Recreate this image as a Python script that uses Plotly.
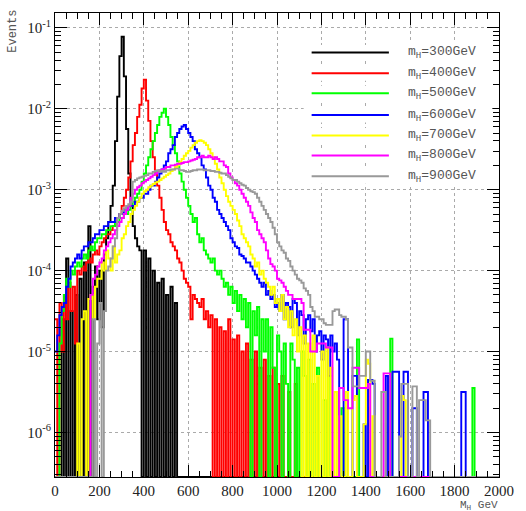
import math
import plotly.graph_objects as go

_ = None  # empty bin (zero events)

# ---- data: log10(Events) per 10 GeV bin of M_H, starting at 0 GeV ----
bin_width_GeV = 10
bin_low_GeV = list(range(0, 2000, bin_width_GeV))

log10_events_mH300 = [
    _, _, _, -4.6, _, -3.85, _, -4.5, _, -4.3,
    _, -4.1, _, -3.9, _, -3.45, _, -4.2, -3.95, -4.6,
    -4.0, -4.7, -3.8, -3.6, -3.4, -3.2, -2.95, -2.4, -1.85, -1.35,
    -1.11, -1.6, -2.25, -2.8, -3.2, -3.45, -3.6, -3.7, -3.75, _,
    -3.75, _, -3.85, _, -4.0, _, -4.15, _, -4.1, _,
    -4.3, _, -4.2, _, -4.4,
]

log10_events_mH400 = [
    -4.6, _, -4.4, -5.0, -4.3, -4.6, -4.15, -4.5, -4.2, -4.9,
    -4.0, -4.05, -3.95, -4.0, -3.9, -3.85, -3.9, -3.8, -3.75, -3.8,
    -3.7, -3.65, -3.6, -3.55, -3.55, -3.5, -3.45, -3.45, -3.35, -3.3,
    -3.2, -3.1, -3.0, -2.85, -2.65, -2.45, -2.3, -2.1, -1.95, -1.75,
    -1.64, -1.9, -2.15, -2.4, -2.6, -2.8, -2.95, -3.1, -3.25, -3.4,
    -3.5, -3.55, -3.65, -3.7, -3.75, -3.85, -3.9, -4.0, -4.1, -4.15,
    -4.2, -4.6, -4.3, -4.35, -4.4, -4.45, -4.35, -4.6, -4.5, -4.7,
    -4.55, _, -4.6, _, -4.7, _, -4.75, _, -4.6, _,
    -4.85, _, -4.8, _, -5.0, _, -4.9, _, -5.1, _,
    -5.0, _, -5.2, _, -5.1, _, -5.3, _, -5.2, _,
    -5.4, _, -5.3, _, _, -5.5, _, _, -5.4,
]

log10_events_mH500 = [
    _, _, -4.9, -4.5, -4.3, -4.1, -4.2, -4.0, -4.05, -3.95,
    -3.9, -3.95, -3.85, -3.8, -3.85, -3.75, -3.7, -3.75, -3.65, -3.6,
    -3.6, -3.55, -3.55, -3.5, -3.5, -3.45, -3.45, -3.4, -3.4, -3.35,
    -3.35, -3.3, -3.3, -3.25, -3.2, -3.15, -3.1, -3.05, -3.0, -2.9,
    -2.8, -2.7, -2.6, -2.5, -2.4, -2.3, -2.2, -2.1, -2.05, -2.0,
    -2.1, -2.2, -2.35, -2.45, -2.55, -2.65, -2.8, -2.9, -3.0, -3.1,
    -3.2, -3.3, -3.4, -3.35, -3.55, -3.65, -3.6, -3.75, -3.8, -3.85,
    -3.9, -3.85, -4.0, -4.05, -4.0, -4.1, -4.2, -4.15, -4.3, -4.2,
    -4.4, -4.25, -4.5, -4.3, -4.6, -4.35, -4.7, -4.4, _, -4.5,
    -4.8, -4.45, _, -4.6, -5.0, -4.6, _, -4.7, -5.2, _,
    -4.8, -5.0, _, -4.9, -5.4, _, -4.9, -5.1, _, -5.2,
    _, -5.0, -5.3, _, -5.1, _, -5.4, _, -5.2, _,
    _, -5.6, _, -5.3, _, _, _, _, _, -5.7,
    _, _, _, _, _, _, -4.85, _, _, _,
    _, _, _, _, _, _, _, _, _, _,
    _, -4.84, _, _, _, _, _, _, _, _,
    _, _, _, _, _, _, _, _, _, _,
    _, _, _, _, _, _, _, _, _, _,
    _, _, _, _, _, _, _, _, -5.45,
]

log10_events_mH600 = [
    -5.0, -4.8, -4.55, -4.45, -4.4, -4.2, -4.1, -3.95, -3.9, -3.85,
    -3.8, -3.85, -3.75, -3.7, -3.7, -3.65, -3.65, -3.6, -3.55, -3.55,
    -3.5, -3.5, -3.45, -3.45, -3.4, -3.4, -3.4, -3.35, -3.35, -3.3,
    -3.3, -3.25, -3.25, -3.2, -3.2, -3.2, -3.15, -3.15, -3.1, -3.1,
    -3.05, -3.05, -3.0, -2.95, -2.95, -2.9, -2.85, -2.8, -2.75, -2.7,
    -2.65, -2.55, -2.5, -2.45, -2.35, -2.3, -2.25, -2.22, -2.2, -2.25,
    -2.3, -2.35, -2.4, -2.5, -2.55, -2.6, -2.7, -2.75, -2.85, -2.95,
    -3.0, -3.1, -3.15, -3.25, -3.3, -3.35, -3.4, -3.45, -3.5, -3.6,
    -3.65, -3.7, -3.72, -3.8, -3.82, -3.85, -3.9, -3.9, -3.95, -4.0,
    -4.05, -4.1, -4.15, -4.2, -4.15, -4.3, -4.25, -4.35, -4.3, -4.45,
    -4.4, -4.5, -4.3, -4.6, -4.4, -4.45, -4.7, -4.35, -4.4, -4.8,
    -4.5, -4.55, -4.9, -4.6, -4.55, -4.75, -4.6, -5.0, -4.8, -4.75,
    -5.1, -4.8, -4.85, -5.3, -4.8, -5.0, -4.9, -5.1, _, _,
    -4.6, -4.6, _, _, -5.3, -5.3, _, _, _, -5.9,
    _, -5.35, -5.35, -5.4, _, _, _, _, _, -5.3,
    _, _, -5.25, -5.25, -5.25, _, _, -5.25, -5.25, _,
    _, -5.7, -5.7, _, _, _, -5.5, -5.5, _, _,
    _, _, _, _, _, _, _, _, _, _,
    _, _, _, -5.5, -5.5,
]

log10_events_mH700 = [
    _, _, _, _, _, _, _, _, _, _,
    -4.9, _, -4.6, -4.5, _, -4.35, -4.3, -4.6, -4.2, -4.1,
    -4.1, -3.9, -4.0, -3.75, -3.85, -4.0, -3.7, -3.9, -3.8, -3.75,
    -3.6, -3.55, -3.45, -3.4, -3.3, -3.25, -3.2, -3.15, -3.1, -3.05,
    -3.02, -3.0, -2.97, -2.95, -2.93, -2.91, -2.9, -2.88, -2.86, -2.84,
    -2.82, -2.8, -2.77, -2.75, -2.72, -2.7, -2.66, -2.62, -2.58, -2.55,
    -2.52, -2.48, -2.45, -2.42, -2.4, -2.39, -2.4, -2.42, -2.45, -2.5,
    -2.55, -2.6, -2.68, -2.75, -2.85, -2.92, -3.0, -3.08, -3.15, -3.2,
    -3.25, -3.3, -3.38, -3.45, -3.55, -3.6, -3.65, -3.7, -3.8, -3.85,
    -3.95, -3.9, -4.05, -4.0, -4.1, -4.15, -4.2, -4.3, -4.2, -4.4,
    -4.35, -4.5, -4.3, -4.6, -4.45, -4.7, -4.5, -4.8, -4.6, -5.0,
    -4.7, _, -4.8, _, -4.9, _, -4.8, _, -5.3, _,
    -5.0, _, -4.95, _, -5.2, _, -5.5, _, -5.8, _,
    _, -5.5, _, _, -5.6, -5.55, _, _, _, -5.9,
    -5.1, -5.15, _, -5.8, _, _, _, _, _, _,
    _, _, _, _, _, _, -5.55, -5.6,
]

log10_events_mH800 = [
    _, _, _, _, _, _, _, _, _, _,
    _, _, _, _, _, _, -4.3, -4.1, -4.05, -3.95,
    -3.9, -3.85, -3.75, -3.7, -3.65, -3.6, -3.55, -3.5, -3.45, -3.4,
    -3.35, -3.3, -3.25, -3.2, -3.1, -3.05, -3.0, -2.97, -2.95, -2.92,
    -2.9, -2.88, -2.86, -2.84, -2.82, -2.8, -2.78, -2.76, -2.75, -2.74,
    -2.72, -2.72, -2.7, -2.7, -2.69, -2.68, -2.68, -2.67, -2.66, -2.66,
    -2.65, -2.64, -2.63, -2.62, -2.6, -2.6, -2.58, -2.6, -2.6, -2.58,
    -2.6, -2.62, -2.6, -2.62, -2.65, -2.65, -2.7, -2.72, -2.8, -2.85,
    -2.88, -2.92, -2.95, -3.0, -3.05, -3.1, -3.15, -3.2, -3.28, -3.35,
    -3.4, -3.5, -3.55, -3.6, -3.65, -3.75, -3.85, -3.92, -3.95, -4.0,
    -4.1, -4.12, -4.15, -4.2, -4.25, -4.3, -4.3, -4.35, -4.35, -4.35,
    -4.35, -4.4, -4.73, -4.73, -4.73, -5.0, -5.0, -5.0, -4.9, -4.9,
    -4.9, -4.9, -4.95, -4.95, -4.95, _, _, _, -5.45, -5.45,
    -5.6, -5.6, -5.7, -5.7, -5.2, -5.2, -5.2, -5.45, -5.45, -5.45,
    -5.45, -5.4, _, _, _, _, _, _, -5.27, -5.27,
    -5.27,
]

log10_events_mH900 = [
    _, _, _, _, _, _, _, _, _, _,
    _, _, _, _, _, _, _, -4.6, _, -4.9,
    -4.4, _, -4.5, -4.0, -3.95, -3.85, -3.7, -3.6, -3.35, -3.3,
    -3.26, -3.23, -3.2, -3.18, -3.15, -2.9, -2.88, -2.86, -2.85, -2.84,
    -2.83, -2.82, -2.8, -2.8, -2.78, -2.77, -2.76, -2.78, -2.77, -2.78,
    -2.76, -2.76, -2.75, -2.75, -2.74, -2.74, -2.76, -2.76, -2.77, -2.78,
    -2.78, -2.77, -2.76, -2.76, -2.75, -2.75, -2.75, -2.76, -2.76, -2.76,
    -2.77, -2.77, -2.78, -2.78, -2.79, -2.8, -2.8, -2.82, -2.84, -2.86,
    -2.88, -2.88, -2.9, -2.92, -2.94, -2.95, -2.98, -3.0, -3.02, -3.03,
    -3.05, -3.1, -3.15, -3.2, -3.25, -3.3, -3.35, -3.4, -3.47, -3.55,
    -3.65, -3.7, -3.75, -3.78, -3.85, -3.88, -3.95, -4.0, -4.05, -4.1,
    -4.12, -4.15, -4.22, -4.25, -4.3, -4.45, -4.5, -4.57, -4.57, -4.6,
    -4.6, -4.65, -4.67, -4.67, -4.67, -4.5, -4.48, -4.48, -4.55, -4.57,
    -4.57, -4.6, -4.95, -4.95, -5.43, -5.43, -5.43, -5.3, -5.3, -5.3,
    -5.0, -5.0, -5.36, -5.36, _, _, _, -5.5, -5.5, _,
    _, _, _, _, _, -6.05, -5.4, -5.4, -5.4, _,
    _, -5.43, -5.43, _, -5.6, -5.6, -5.6, -5.85, -5.85,
]

series_labels = ["300", "400", "500", "600", "700", "800", "900"]
series_log10 = [log10_events_mH300, log10_events_mH400, log10_events_mH500,
                log10_events_mH600, log10_events_mH700, log10_events_mH800,
                log10_events_mH900]
series_colors = ["#000000", "#ff0000", "#00ff00", "#0000ff", "#ffff00",
                 "#ff00ff", "#999999"]

# ---- axes ----
x_tick_vals = list(range(0, 2001, 200))
y_log_min, y_log_max = -6.55, -0.817
y_decades = [-6, -5, -4, -3, -2, -1]

fig = go.Figure()

floor_value = 10 ** y_log_min  # empty bins are drawn on the bottom edge (ROOT style)
x_edges = bin_low_GeV + [bin_low_GeV[-1] + bin_width_GeV]
for lab, logs, col in zip(series_labels, series_log10, series_colors):
    full = list(logs) + [None] * (len(bin_low_GeV) - len(logs))
    yv = [10 ** v if v is not None else floor_value for v in full]
    yv = yv + [yv[-1]]
    fig.add_trace(go.Scatter(
        x=x_edges, y=yv, mode="lines", line=dict(color=col, width=1.9, shape="hv"),
        name="m<sub>H</sub>=%sGeV" % lab, showlegend=False, hoverinfo="skip"))

minor_y = [k * 10 ** n for n in range(-7, 0) for k in range(2, 10)
           if y_log_min < (n + math.log10(k)) < y_log_max]

tick_font = dict(family="Liberation Serif, Times New Roman, serif", size=15, color="#222222")

fig.update_xaxes(
    range=[0, 2000], tickmode="array", tickvals=x_tick_vals,
    ticktext=[str(v) for v in x_tick_vals],
    ticks="inside", ticklen=12, tickcolor="black", tickwidth=1,
    showline=True, linecolor="black", linewidth=1, mirror="allticks",
    showgrid=True, gridcolor="#aaaaaa", griddash="dot", gridwidth=1,
    zeroline=False, tickfont=tick_font,
    minor=dict(tickmode="linear", tick0=0, dtick=50, ticks="inside", ticklen=6,
               tickcolor="black", showgrid=False),
)
fig.update_yaxes(
    type="log", range=[y_log_min, y_log_max], tickmode="array",
    tickvals=[10 ** d for d in y_decades],
    ticktext=["10<sup>%d</sup>" % d for d in y_decades],
    ticks="inside", ticklen=12, tickcolor="black", tickwidth=1,
    showline=True, linecolor="black", linewidth=1, mirror="allticks",
    showgrid=True, gridcolor="#aaaaaa", griddash="dot", gridwidth=1,
    zeroline=False, tickfont=tick_font,
    minor=dict(tickmode="array", tickvals=minor_y, ticks="inside", ticklen=6,
               tickcolor="black", showgrid=False),
)

# ---- legend (ROOT TLegend style) ----
legend_rows_y = [0.915, 0.870, 0.827, 0.780, 0.736, 0.693, 0.648]
shapes = []
annotations = []
# white backing that hides the grid behind the legend (as in the original)
shapes.append(dict(type="rect", xref="paper", yref="paper", x0=0.77, x1=0.985,
                   y0=0.625, y1=0.94, fillcolor="white", line=dict(width=0),
                   layer="above"))
for yy in legend_rows_y:
    shapes.append(dict(type="rect", xref="paper", yref="paper", x0=0.56, x1=0.77,
                       y0=yy - 0.016, y1=yy + 0.016, fillcolor="white",
                       line=dict(width=0), layer="above"))
for lab, col, yy in zip(series_labels, series_colors, legend_rows_y):
    shapes.append(dict(type="line", xref="paper", yref="paper", x0=0.578, x1=0.752,
                       y0=yy, y1=yy, line=dict(color=col, width=2), layer="above"))
    annotations.append(dict(xref="paper", yref="paper", x=0.79, y=yy, xanchor="left",
                            yanchor="middle", showarrow=False,
                            text="m<sub>H</sub>=%sGeV" % lab,
                            font=dict(family="Liberation Mono, monospace", size=13,
                                      color="#555555")))

annotations.append(dict(xref="paper", yref="paper", x=-0.095, y=1.012, xanchor="center",
                        yanchor="top", textangle=-90, showarrow=False, text="Events",
                        font=dict(family="Liberation Mono, monospace", size=12,
                                  color="#555555")))
annotations.append(dict(xref="paper", yref="paper", x=1.0, y=-0.046, xanchor="right",
                        yanchor="top", showarrow=False, text="M<sub>H</sub> GeV",
                        borderpad=0,
                        font=dict(family="Liberation Mono, monospace", size=11,
                                  color="#555555")))

fig.update_layout(
    width=526, height=511,
    margin=dict(l=55, r=16, t=13, b=29, pad=0),
    paper_bgcolor="white", plot_bgcolor="white",
    showlegend=False, shapes=shapes, annotations=annotations,
)

fig.write_html("out.html")
